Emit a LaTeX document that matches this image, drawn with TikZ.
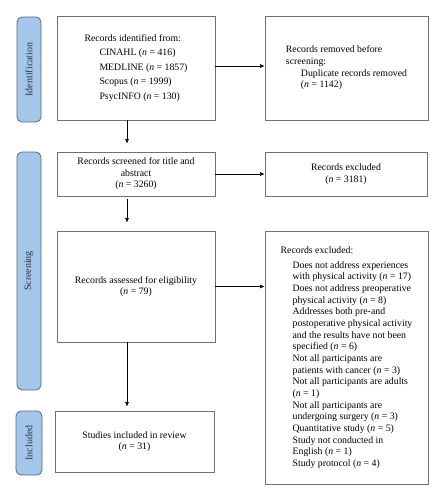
\documentclass[tikz,border=0pt]{standalone}
\usepackage{fontspec}
\setmainfont{Liberation Serif}
\usetikzlibrary{arrows.meta}
\definecolor{barfill}{HTML}{A4C6EA}
\definecolor{bardraw}{HTML}{5A6878}
\definecolor{boxdraw}{HTML}{707070}
\definecolor{labtext}{HTML}{2E3440}
\tikzset{
  basebox/.style={draw=boxdraw, line width=0.8pt, rectangle, inner sep=0pt,
    font=\fontsize{9.8}{11.65}\selectfont},
  box/.style={basebox, align=left},
  cbox/.style={basebox, align=center},
  bar/.style={draw=bardraw, fill=barfill, line width=0.8pt, rounded corners=5pt,
    inner sep=0pt, text=labtext},
  barlab/.style={text=labtext, rotate=90, font=\fontsize{10}{12}\selectfont},
  arr/.style={draw=black, line width=0.6pt, -{Latex[length=4.5pt,width=4pt]}}
}
\begin{document}
\begin{tikzpicture}[x=1pt,y=-1pt]
\useasboundingbox (0,0) rectangle (444,500);
% phase bars
\node[bar, minimum width=24pt, minimum height=105pt] (bar1) at (29,69.5) {};
\node[barlab] (lab1) at (bar1.center) {Identification};
\node[bar, minimum width=24pt, minimum height=238pt] (bar2) at (29,271) {};
\node[barlab] (lab2) at (bar2.center) {Screening};
\node[bar, minimum width=26pt, minimum height=64pt] (bar3) at (29,443) {};
\node[barlab] (lab3) at (bar3.center) {Included};
% boxes
\node[box, minimum width=158pt, minimum height=104pt, font=\fontsize{9.8}{14.6}\selectfont] (b1) at (136,68) {Records identified from:\\
\hspace*{15pt}CINAHL (\textit{n} = 416)\\
\hspace*{15pt}MEDLINE (\textit{n} = 1857)\\
\hspace*{15pt}Scopus (\textit{n} = 1999)\\
\hspace*{15pt}PsycINFO (\textit{n} = 130)};
\node[box, minimum width=163pt, minimum height=104pt] (b2) at (346.5,68) {Records removed before\\
screening:\\
\hspace*{15pt}Duplicate records removed\\
\hspace*{15pt}(\textit{n} = 1142)};
\node[basebox, minimum width=158pt, minimum height=44pt] (b3) at (136,174) {\begin{tabular}{@{}c@{}}Records screened for title and\\ \hbox to 0pt{\hss abstract\hss}\\ (\textit{n} = 3260)\end{tabular}};
\node[cbox, minimum width=162pt, minimum height=44pt] (b4) at (346,174) {Records excluded\\(\textit{n} = 3181)};
\node[cbox, minimum width=158pt, minimum height=111pt] (b5) at (136,286.5) {Records assessed for eligibility\\(\textit{n} = 79)};
\node[box, minimum width=163pt, minimum height=253pt] (b6) at (346.5,357.5) {Records excluded:\\[3.3pt]
\hspace*{12pt}Does not address experiences\\
\hspace*{12pt}with physical activity (\textit{n} = 17)\\
\hspace*{12pt}Does not address preoperative\\
\hspace*{12pt}physical activity (\textit{n} = 8)\\
\hspace*{12pt}Addresses both pre-and\\
\hspace*{12pt}postoperative physical activity\\
\hspace*{12pt}and the results have not been\\
\hspace*{12pt}specified (\textit{n} = 6)\\
\hspace*{12pt}Not all participants are\\
\hspace*{12pt}patients with cancer (\textit{n} = 3)\\
\hspace*{12pt}Not all participants are adults\\
\hspace*{12pt}(\textit{n} = 1)\\
\hspace*{12pt}Not all participants are\\
\hspace*{12pt}undergoing surgery (\textit{n} = 3)\\
\hspace*{12pt}Quantitative study (\textit{n} = 5)\\
\hspace*{12pt}Study not conducted in\\
\hspace*{12pt}English (\textit{n} = 1)\\
\hspace*{12pt}Study protocol (\textit{n} = 4)};
\node[cbox, minimum width=159pt, minimum height=61pt] (b7) at (134.5,441.5) {Studies included in review\\(\textit{n} = 31)};
% connectors
\draw[arr] ([yshift=2pt]b1.east) -- ([yshift=2pt]b2.west);
\draw[arr] (b3.east) -- (b4.west);
\draw[arr] (b5.east) -- (b6.west |- b5.east);
\draw[arr, shorten >=8pt] ([xshift=-9pt]b1.south) -- ([xshift=-9pt]b1.south |- b3.north);
\draw[arr, shorten <=3pt, shorten >=8pt] ([xshift=-9pt]b3.south) -- ([xshift=-9pt]b3.south |- b5.north);
\draw[arr, shorten >=4pt] ([xshift=-9pt]b5.south) -- ([xshift=-9pt]b5.south |- b7.north);
\end{tikzpicture}
\end{document}
